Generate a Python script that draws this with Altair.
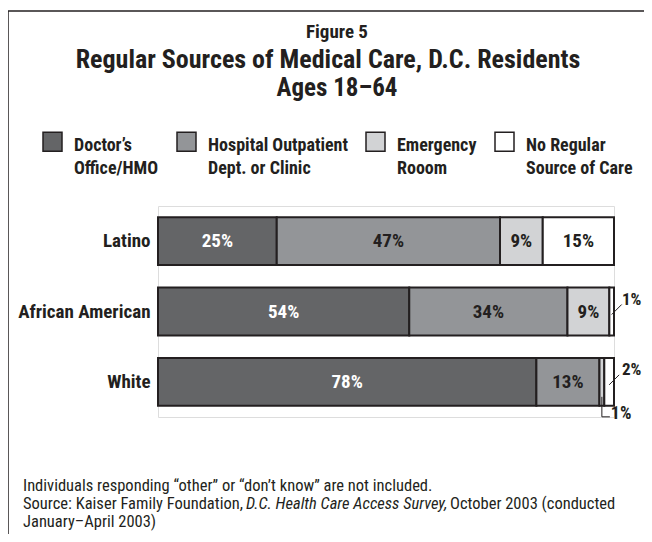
import json
import altair as alt
import pandas as pd

groups = ["Latino", "African American", "White"]
categories = [
    "Doctor’s Office/HMO",
    "Hospital Outpatient Dept. or Clinic",
    "Emergency Rooom",
    "No Regular Source of Care",
]
legend_lines = [
    ["Doctor’s", "Office/HMO"],
    ["Hospital Outpatient", "Dept. or Clinic"],
    ["Emergency", "Rooom"],
    ["No Regular", "Source of Care"],
]
latino = [25, 47, 9, 15]
african_american = [54, 34, 9, 1]
white = [78, 13, 1, 2]
colors = ["#646567", "#939598", "#d2d3d5", "#ffffff"]

title_top = "Figure 5"
title_lines = ["Regular Sources of Medical Care, D.C. Residents", "Ages 18–64"]
note_line1 = "Individuals responding “other” or “don’t know” are not included."
note_line2a = "Source: Kaiser Family Foundation,"
note_line2b = "D.C. Health Care Access Survey,"
note_line2c = "October 2003 (conducted"
note_line3 = "January–April 2003)"

FONT = "Liberation Sans Narrow, Roboto Condensed, Arial Narrow, sans-serif"
INK = "#231f20"

rows = []
for g, vals in zip(groups, [latino, african_american, white]):
    for i, (c, v) in enumerate(zip(categories, vals)):
        rows.append({"group": g, "category": c, "order": i, "value": v})
df = pd.DataFrame(rows)

base = (
    alt.Chart(df)
    .transform_joinaggregate(total="sum(value)", groupby=["group"])
    .transform_window(
        cum="sum(value)", sort=[alt.SortField("order")], groupby=["group"], frame=[None, 0]
    )
    .transform_calculate(
        start="(datum.cum - datum.value) / datum.total",
        end="datum.cum / datum.total",
        mid="(datum.cum - datum.value / 2) / datum.total",
        label="datum.value + '%'",
    )
)

xscale = alt.Scale(domain=[0, 1], nice=False, zero=False)
yenc = alt.Y(
    "group:N",
    sort=groups,
    scale=alt.Scale(paddingInner=0.32, paddingOuter=0.16),
    axis=alt.Axis(
        title=None, domain=False, ticks=False, labelFont=FONT, labelFontSize=19,
        labelFontWeight="bold", labelColor=INK, labelPadding=8,
    ),
)

label_map = json.dumps(dict(zip(categories, legend_lines)), ensure_ascii=False)

bars = base.mark_bar(stroke=INK, strokeWidth=2).encode(
    x=alt.X("start:Q", scale=xscale, axis=None),
    x2="end:Q",
    y=yenc,
    fill=alt.Fill(
        "category:N",
        sort=categories,
        scale=alt.Scale(domain=categories, range=colors),
        legend=alt.Legend(
            orient="none", legendX=-116, legendY=-80, direction="horizontal",
            columns=4, columnPadding=15, title=None,
            symbolType="M-1,-0.47H1V1.53H-1Z",
            symbolSize=361, symbolStrokeColor=INK, symbolStrokeWidth=1.5,
            labelExpr=label_map + "[datum.label]", labelFont=FONT,
            labelFontSize=18, labelFontWeight="bold", labelColor=INK,
            labelOffset=11, labelLimit=400, labelBaseline="top", padding=0,
        ),
    ),
    order=alt.Order("order:Q"),
)

inner = base.transform_filter("datum.value >= 5").mark_text(
    font=FONT, fontSize=19, fontWeight="bold"
).encode(
    x=alt.X("mid:Q", scale=xscale),
    y=alt.Y("group:N", sort=groups),
    text="label:N",
    color=alt.condition(
        alt.datum.category == categories[0], alt.value("white"), alt.value(INK)
    ),
)

small_right = base.transform_filter(
    f"datum.value < 5 && datum.category == '{categories[3]}'"
)
right_text = small_right.mark_text(
    font=FONT, fontSize=17, fontWeight="bold", align="left", dx=8, dy=-12, color=INK
).encode(x=alt.X("end:Q", scale=xscale), y=alt.Y("group:N", sort=groups), text="label:N")
right_lead = small_right.mark_rule(
    color=INK, strokeWidth=1, yOffset=3, y2Offset=-7, x2Offset=10
).encode(
    x=alt.X("mid:Q", scale=xscale), x2="mid:Q",
    y=alt.Y("group:N", sort=groups), y2="group:N",
)

small_below = base.transform_filter(
    f"datum.value < 5 && datum.category == '{categories[2]}'"
)
below_text = small_below.mark_text(
    font=FONT, fontSize=18, fontWeight="bold", align="left", dx=9, dy=32, color=INK
).encode(x=alt.X("mid:Q", scale=xscale), y=alt.Y("group:N", sort=groups), text="label:N")
below_v = small_below.mark_rule(
    color=INK, strokeWidth=1, yOffset=15, y2Offset=35
).encode(
    x=alt.X("mid:Q", scale=xscale), y=alt.Y("group:N", sort=groups), y2="group:N",
)
below_h = small_below.mark_rule(
    color=INK, strokeWidth=1, yOffset=35, y2Offset=35, x2Offset=8
).encode(
    x=alt.X("mid:Q", scale=xscale), x2="mid:Q",
    y=alt.Y("group:N", sort=groups), y2="group:N",
)

one = pd.DataFrame({"k": [0]})


def txt(t, x, y, size, weight="normal", style="normal", align="left"):
    return alt.Chart(one).mark_text(
        font=FONT, fontSize=size, fontWeight=weight, fontStyle=style,
        align=align, baseline="alphabetic", color=INK,
    ).encode(x=alt.value(x), y=alt.value(y), text=alt.value(t))


titles = [
    txt(title_top, 179, -168, 19, weight="bold", align="center"),
    txt(title_lines[0], 170, -138, 26, weight="bold", align="center"),
    txt(title_lines[1], 179, -110, 25, weight="bold", align="center"),
]

notes = [
    txt(note_line1, -135, 285, 16.5),
    txt(note_line2a, -135, 303, 16.5),
    txt(note_line2b, 88, 303, 16.5, style="italic"),
    txt(note_line2c, 292, 303, 16.5),
    txt(note_line3, -135, 321, 16.5),
]

frame_top = alt.Chart(one).mark_rule(color=INK, strokeWidth=1.5).encode(
    x=alt.value(-150), x2=alt.value(500), y=alt.value(-195)
)
frame_left = alt.Chart(one).mark_rule(color=INK, strokeWidth=1.5).encode(
    x=alt.value(-150), y=alt.value(-195), y2=alt.value(340)
)

chart = (
    alt.layer(bars, inner, right_lead, right_text, below_v, below_h, below_text,
              *titles, *notes, frame_top, frame_left)
    .properties(
        width=456,
        height=211,
        autosize=alt.AutoSizeParams(type="none"),
        padding={"left": 150, "top": 198, "right": 30, "bottom": 117},
        background="white",
    )
    .configure_view(stroke=None)
    .configure(style={"guide-label": {"lineHeight": 23}})
)

chart.save("out.html", embed_options={"renderer": "svg", "actions": False})
